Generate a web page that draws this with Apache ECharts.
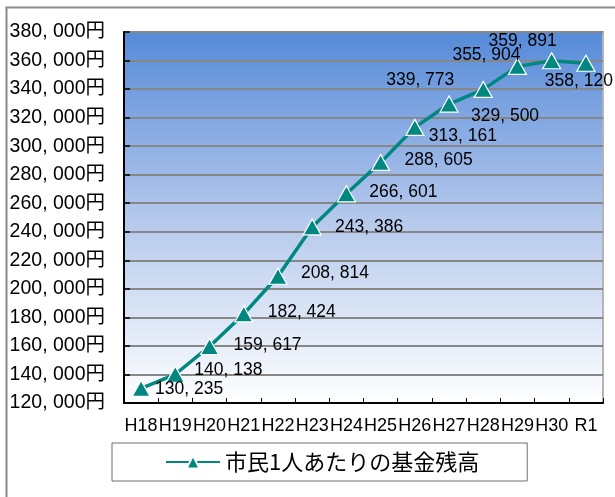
<!DOCTYPE html>
<html>
<head>
<meta charset="utf-8">
<script src="https://cdn.jsdelivr.net/npm/echarts@6/dist/echarts.min.js"></script>
<style>
html,body{margin:0;padding:0;background:#fff;}
#c{width:615px;height:497px;}
</style>
</head>
<body>
<div id="c"></div>
<script>
const categories = ['H18','H19','H20','H21','H22','H23','H24','H25','H26','H27','H28','H29','H30','R1'];
const seriesName = '市民1人あたりの基金残高';
const values = [130235,140138,159617,182424,208814,243386,266601,288605,313161,329500,339773,355904,359891,358120];
const yMin = 120000, yMax = 380000, yStep = 20000;
// label placement (pixels from marker centre)
const labelOffsets = [[48,1],[53,-4],[58,-1],[58,-2],[57,-3],[57,0],[57,-2],[58,-2],[48,9],[56,12],[-63,-9],[-31,-11],[-29,-20],[-7,18]];

function fmt(v){ return String(v).replace(/\B(?=(\d{3})+(?!\d))/g, ', '); }
const FONT = '"Liberation Sans", "Noto Sans CJK JP", sans-serif';

const chart = echarts.init(document.getElementById('c'), null, {renderer:'canvas'});
chart.setOption({
  animation:false,
  graphic:[{type:'rect', left:4, top:5, shape:{x:0,y:0,width:700,height:600}, style:{fill:'none', stroke:'#8a8a8a', lineWidth:2}, silent:true}],
  grid:{left:124, top:32, right:12, bottom:94, show:true, borderColor:'#b4b4b4', borderWidth:2,
    backgroundColor:{type:'linear',x:0,y:0,x2:0,y2:1,colorStops:[{offset:0,color:'#558ad8'},{offset:0.5,color:'#b4c8ec'},{offset:1,color:'#ffffff'}]}},
  xAxis:{type:'category', data:categories, boundaryGap:true,
    axisLine:{lineStyle:{color:'#000', width:2}},
    axisTick:{show:true, inside:true, length:5, lineStyle:{color:'#000', width:1}},
    axisLabel:{interval:0, margin:14, color:'#000', fontSize:18, fontFamily:FONT}},
  yAxis:{type:'value', min:yMin, max:yMax, interval:yStep,
    axisLine:{show:true, lineStyle:{color:'#000', width:2}},
    axisTick:{show:true, inside:true, length:6, lineStyle:{color:'#000', width:1.5}},
    splitLine:{show:true, lineStyle:{color:'#878787', width:2}},
    axisLabel:{margin:19, color:'#000', fontSize:19.5, fontFamily:FONT, formatter:v=>fmt(v)+'円'}},
  legend:{show:true, left:112, top:443, width:428, padding:[8,48,8,53], itemWidth:54, itemHeight:16,
    borderColor:'#6e6e6e', borderWidth:1, backgroundColor:'#fff',
    textStyle:{fontSize:22, color:'#000', fontFamily:'"Noto Sans CJK JP", sans-serif'},
    data:[seriesName]},
  series:[{name:seriesName, type:'line',
    data: values.map((v,i)=>({value:v, label:{offset:labelOffsets[i]}})),
    lineStyle:{color:'#00877f', width:3.5},
    itemStyle:{color:'#00877f', borderColor:'#ffffff', borderWidth:1.2},
    symbol:'triangle', symbolSize:[18,16], showAllSymbol:true,
    label:{show:true, position:'inside', color:'#000', fontSize:17.5, fontFamily:FONT, formatter:p=>fmt(p.value)}
  }]
});
</script>
</body>
</html>
